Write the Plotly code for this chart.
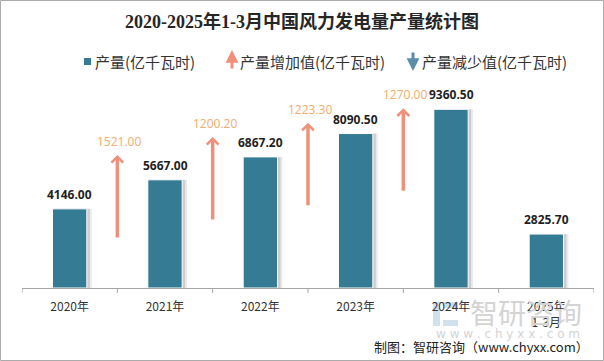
import plotly.graph_objects as go

# ---------------- data ----------------
categories = ["2020年", "2021年", "2022年", "2023年", "2024年", "2025年<br>1-3月"]
output_values = [4146.00, 5667.00, 6867.20, 8090.50, 9360.50, 2825.70]
increase_values = [None, 1521.00, 1200.20, 1223.30, 1270.00, None]

# ---------------- style / layout constants ----------------
W, H = 604, 361
ML, MR, MT, MB = 22, 10, 78, 73
PW, PH = W - ML - MR, H - MT - MB
YMAX = 11000

BAR_COLOR = "#367B94"
ARROW_COLOR = "#F0907A"
INC_LABEL_COLOR = "#F5AA6E"
DEC_COLOR = "#5A8EA8"
TEXT_COLOR = "#333333"
CJK = "Noto Sans CJK SC"
NUM_FONT = "Open Sans, " + CJK

BAR_W = 0.36
PX = 1.0 / (PW / len(categories))  # one pixel in category units


def px_x(p):
    return (p - ML) / PW


def px_y(p):
    return (MT + PH - p) / PH


xs = list(range(len(categories)))

fig = go.Figure()

# bar shadows
for shift, alpha in [(5, 0.08), (3, 0.12)]:
    fig.add_trace(go.Bar(
        x=xs, y=output_values, width=BAR_W, offset=-BAR_W / 2 + shift * PX,
        marker=dict(color=f"rgba(0,0,0,{alpha})", line=dict(width=0)),
        hoverinfo="skip", showlegend=False))

# main bars
fig.add_trace(go.Bar(
    x=xs, y=output_values, width=BAR_W, offset=-BAR_W / 2,
    marker=dict(color=BAR_COLOR, line=dict(color="white", width=1)),
    showlegend=False))

annotations = []

# bar value labels
for i, v in enumerate(output_values):
    annotations.append(dict(
        x=i, y=v, xref="x", yref="y", text=f"{v:.2f}", showarrow=False,
        yanchor="bottom", yshift=4,
        font=dict(family=NUM_FONT, size=12, color="#1f1f1f", weight="bold")))

# increase arrows between categories (anchored on the previous year's output)
ARROW_LEN = 4400
for i, inc in enumerate(increase_values):
    if inc is None:
        continue
    bottom = output_values[i - 1] * 0.62
    top = bottom + ARROW_LEN
    xb = i - 0.5
    annotations.append(dict(
        x=xb, y=top, ax=xb, ay=bottom, xref="x", yref="y", axref="x", ayref="y",
        text="", showarrow=True, arrowhead=4, arrowsize=0.65, arrowwidth=3.5,
        arrowcolor=ARROW_COLOR))
    annotations.append(dict(
        x=xb, y=top, xref="x", yref="y", text=f"{inc:.2f}", showarrow=False,
        yanchor="bottom", yshift=3, xshift=2,
        font=dict(family=NUM_FONT, size=12, color=INC_LABEL_COLOR)))

# legend (built by hand)
shapes = [
    dict(type="rect", xref="paper", yref="paper",
         x0=px_x(84), x1=px_x(91), y0=px_y(65), y1=px_y(58),
         fillcolor=BAR_COLOR, line=dict(width=0)),
]
annotations += [
    dict(x=px_x(93), y=px_y(61), xref="paper", yref="paper", text="产量(亿千瓦时)",
         showarrow=False, xanchor="left", yanchor="middle",
         font=dict(family=CJK, size=15, color=TEXT_COLOR)),
    dict(x=px_x(232), y=px_y(50), xref="paper", yref="paper", ax=0, ay=20,
         text="", showarrow=True, arrowhead=2, arrowsize=0.85, arrowwidth=3,
         arrowcolor=ARROW_COLOR),
    dict(x=px_x(238), y=px_y(61), xref="paper", yref="paper", text="产量增加值(亿千瓦时)",
         showarrow=False, xanchor="left", yanchor="middle",
         font=dict(family=CJK, size=15, color=TEXT_COLOR)),
    dict(x=px_x(413), y=px_y(71), xref="paper", yref="paper", ax=0, ay=-20,
         text="", showarrow=True, arrowhead=2, arrowsize=0.85, arrowwidth=3,
         arrowcolor=DEC_COLOR),
    dict(x=px_x(420), y=px_y(61), xref="paper", yref="paper", text="产量减少值(亿千瓦时)",
         showarrow=False, xanchor="left", yanchor="middle",
         font=dict(family=CJK, size=15, color=TEXT_COLOR)),
]

# watermark
shapes += [
    dict(type="rect", xref="paper", yref="paper",
         x0=px_x(433), x1=px_x(440), y0=px_y(326), y1=px_y(302),
         fillcolor="#cfe0ee", line=dict(width=0), layer="below"),
    dict(type="rect", xref="paper", yref="paper",
         x0=px_x(443), x1=px_x(458), y0=px_y(308), y1=px_y(302),
         fillcolor="#cfe0ee", line=dict(width=0), layer="below"),
    dict(type="rect", xref="paper", yref="paper",
         x0=px_x(443), x1=px_x(458), y0=px_y(326), y1=px_y(320),
         fillcolor="#cfe0ee", line=dict(width=0), layer="below"),
]
annotations += [
    dict(x=px_x(526), y=px_y(312), xref="paper", yref="paper", text="智研咨询",
         showarrow=False, xanchor="center", yanchor="middle",
         font=dict(family=CJK, size=28, color="#d4d4d4")),
    dict(x=px_x(508), y=px_y(334), xref="paper", yref="paper",
         text="w w w . c h y x x . c o m",
         showarrow=False, xanchor="center", yanchor="middle",
         font=dict(family="DejaVu Sans", size=12, color="#d4d4d4")),
    dict(x=px_x(591), y=px_y(346), xref="paper", yref="paper",
         text="制图：智研咨询（www.chyxx.com）",
         showarrow=False, xanchor="right", yanchor="middle",
         font=dict(family=CJK, size=13, color="#222222")),
]

# outer frame
shapes.append(dict(type="rect", xref="paper", yref="paper",
                   x0=px_x(0.5), x1=px_x(603.5), y0=px_y(360.5), y1=px_y(0.5),
                   line=dict(color="#ababab", width=1), fillcolor="rgba(0,0,0,0)"))

fig.update_layout(
    width=W, height=H,
    margin=dict(l=ML, r=MR, t=MT, b=MB),
    paper_bgcolor="white", plot_bgcolor="white",
    barmode="overlay",
    showlegend=False,
    hovermode=False,
    title=dict(text="2020-2025年1-3月中国风力发电量产量统计图",
               x=0.5, xref="container", xanchor="center",
               y=1 - 22 / H, yref="container", yanchor="middle",
               font=dict(family="Liberation Serif, " + CJK, size=18,
                         color="#262626", weight="bold")),
    xaxis=dict(
        tickmode="array", tickvals=xs, ticktext=categories,
        range=[-0.5, len(categories) - 0.5],
        showline=True, linecolor="#a6a6a6", linewidth=1,
        ticks="", showgrid=False, zeroline=False,
        ticklabelstandoff=8,
        tickfont=dict(family=CJK, size=12, color=TEXT_COLOR),
    ),
    yaxis=dict(range=[0, YMAX], visible=False, showgrid=False, zeroline=False),
    annotations=annotations,
    shapes=shapes,
)

# tick marks on category boundaries
for b in range(len(categories) + 1):
    fig.add_shape(type="line", xref="x", yref="paper",
                  x0=b - 0.5, x1=b - 0.5, y0=0, y1=-5 / PH,
                  line=dict(color="#a6a6a6", width=1))

fig.write_html("out.html",
               config={"displayModeBar": False},
               post_script="document.body.style.margin='0';document.body.style.overflow='hidden';")
